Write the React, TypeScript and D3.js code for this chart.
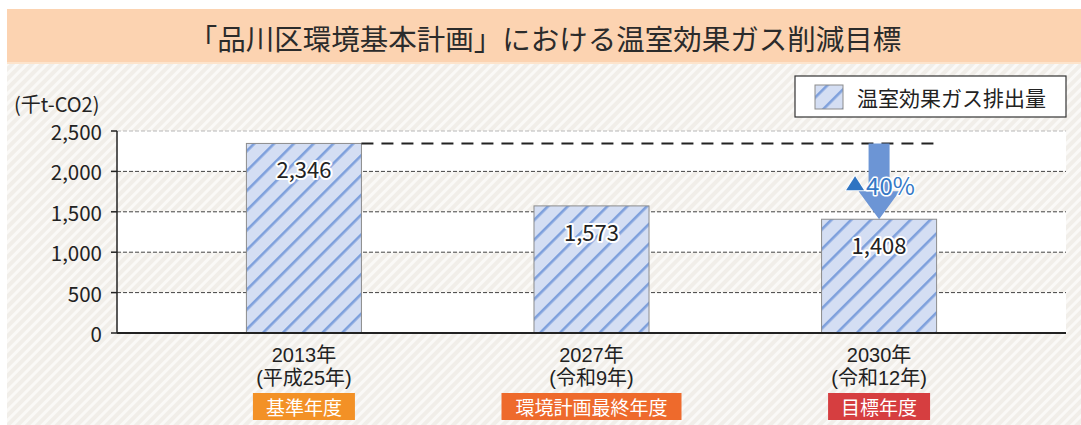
import React from "react";
import * as d3 from "d3";

const title = "「品川区環境基本計画」における温室効果ガス削減目標";
const unitLabel = "(千t-CO2)";
const legendLabel = "温室効果ガス排出量";
const categories = ["2013年", "2027年", "2030年"];
const subLabels = ["(平成25年)", "(令和9年)", "(令和12年)"];
const badges = ["基準年度", "環境計画最終年度", "目標年度"];
const badgeColors = ["#F39126", "#EE6A2C", "#D63E40"];
const values = [2346, 1573, 1408];
const yTicks = [0, 500, 1000, 1500, 2000, 2500];
const reductionLabel = "40%";

const W = 1081;
const H = 425;
const FONT = "'Noto Sans CJK JP', 'Noto Sans', sans-serif";
const TIGHT_FONT = "'Liberation Sans', 'Noto Sans CJK JP', sans-serif";

export default function App() {
  const x0 = 117;
  const x1 = 1066;
  const yBottom = 333;
  const yTop = 131;
  const x = d3.scaleBand<string>().domain(categories).range([x0, x1]).paddingInner(0.6).paddingOuter(0.45);
  const y = d3.scaleLinear().domain([0, 2500]).range([yBottom, yTop]);
  const bw = x.bandwidth();
  const fmt = d3.format(",");

  const bands = d3.pairs(yTicks);

  const baseY = y(values[0]);
  const targetX = (x(categories[2]) as number) + bw / 2;
  const targetTop = y(values[2]);
  const shaftW = 21;
  const headW = 41;
  const headTop = targetTop - 28;
  const arrowPath = `M${targetX - shaftW / 2},${baseY} L${targetX + shaftW / 2},${baseY} L${targetX + shaftW / 2},${headTop} L${targetX + headW / 2},${headTop} L${targetX},${targetTop} L${targetX - headW / 2},${headTop} L${targetX - shaftW / 2},${headTop} Z`;
  const labelY = (baseY + headTop) / 2 + 17;
  const triL = targetX - 33;
  const triPath = `M${triL},${labelY + 6} L${triL + 18},${labelY + 6} L${triL + 9},${labelY - 8} Z`;

  return (
    <svg width={W} height={H} style={{ position: "absolute", left: 0, top: 0, display: "block" }} fontFamily={FONT}>
      <defs>
        <pattern id="bg" patternUnits="userSpaceOnUse" width="7" height="7" patternTransform="rotate(45)">
          <rect width="7" height="7" fill="#F1EEE9" />
          <rect width="3" height="7" fill="#FAF9F7" />
        </pattern>
        <pattern id="barHatch" patternUnits="userSpaceOnUse" width="14" height="14" patternTransform="rotate(45)">
          <rect width="14" height="14" fill="#D4DEF3" />
          <rect width="2.6" height="14" fill="#7EA0DC" />
        </pattern>
      </defs>
      <rect x={0} y={0} width={W} height={H} fill="#FFFFFF" />
      <rect x={7} y={9} width={W - 7} height={H - 9} fill="url(#bg)" />
      <rect x={7} y={9} width={W - 7} height={54} fill="#FCD3B1" />
      <rect x={7} y={62} width={W - 7} height={2} fill="#FDE4CC" />
      <text x={545} y={37} textAnchor="middle" dominantBaseline="central" fontSize={28.5} fill="#2B2B2B">{title}</text>

      {/* plot bands */}
      {bands.map(([a, b], i) => (
        i % 2 === 0 ? (
          <rect key={"band" + i} x={x0} y={y(b)} width={x1 - x0} height={y(a) - y(b)} fill="#FFFFFF" />
        ) : null
      ))}

      {/* grid lines */}
      {yTicks.filter((t) => t > 0).map((t) => (
        <line key={"g" + t} x1={x0} x2={x1} y1={y(t)} y2={y(t)} stroke={t === 2500 ? "#B8B8B8" : "#444"} strokeWidth={1} strokeDasharray="4 2" />
      ))}

      {/* y axis */}
      <line x1={x0} x2={x0} y1={yTop} y2={yBottom} stroke="#222" strokeWidth={1.5} />
      {yTicks.map((t) => (
        <g key={"t" + t}>
          <line x1={x0 - 6} x2={x0} y1={y(t)} y2={y(t)} stroke="#222" strokeWidth={1.5} />
          <text x={102} y={y(t)} textAnchor="end" dominantBaseline="central" fontSize={20.5} fill="#222">{fmt(t)}</text>
        </g>
      ))}
      <text x={14} y={103} dominantBaseline="central" fontSize={20} fill="#222">{unitLabel}</text>

      {/* bars */}
      {values.map((v, i) => {
        const bx = x(categories[i]) as number;
        return (
          <g key={"b" + i}>
            <rect x={bx} y={y(v)} width={bw} height={yBottom - y(v)} fill="url(#barHatch)" stroke="#8C8C8C" strokeWidth={1} />
            <text x={bx + bw / 2} y={y(v) + 25} textAnchor="middle" dominantBaseline="central" fontSize={22} fill="#222" stroke="#FFFFFF" strokeWidth={4} strokeLinejoin="round" style={{ paintOrder: "stroke" }}>{fmt(v)}</text>
          </g>
        );
      })}

      {/* x axis */}
      <line x1={x0} x2={x1} y1={yBottom} y2={yBottom} stroke="#222" strokeWidth={2} />

      {/* baseline dashed line */}
      <line x1={(x(categories[0]) as number) + bw} x2={(x(categories[2]) as number) + bw + 1} y1={baseY} y2={baseY} stroke="#222" strokeWidth={2} strokeDasharray="12 8" />

      {/* reduction arrow */}
      <path d={arrowPath} fill="#6C95D5" />
      <path d={triPath} fill="#2F74C2" stroke="#FFFFFF" strokeWidth={1.5} style={{ paintOrder: "stroke" }} />
      <text x={triL + 20} y={labelY} dominantBaseline="central" fontSize={24} fill="#3478C6" stroke="#FFFFFF" strokeWidth={3} strokeLinejoin="round" style={{ paintOrder: "stroke" }}>{reductionLabel}</text>

      {/* category labels */}
      {categories.map((c, i) => {
        const cx = (x(c) as number) + bw / 2;
        const label = badges[i];
        const bwid = label.length * 19.5 + 24;
        return (
          <g key={"c" + i}>
            <text x={cx} y={362} textAnchor="middle" fontSize={20} fill="#222" fontFamily={TIGHT_FONT}>{c}</text>
            <text x={cx} y={384.5} textAnchor="middle" fontSize={20} fill="#222" fontFamily={TIGHT_FONT}>{subLabels[i]}</text>
            <rect x={cx - bwid / 2} y={393} width={bwid} height={27} fill={badgeColors[i]} />
            <text x={cx} y={406.5} textAnchor="middle" dominantBaseline="central" fontSize={19} fill="#FFFFFF">{label}</text>
          </g>
        );
      })}

      {/* legend */}
      <rect x={795} y={76} width={271} height={41} fill="#FFFFFF" stroke="#333" strokeWidth={1.2} />
      <rect x={815} y={85} width={28} height={24} fill="url(#barHatch)" stroke="#8C8C8C" strokeWidth={1} />
      <text x={857} y={97} dominantBaseline="central" fontSize={21} fill="#222">{legendLabel}</text>
    </svg>
  );
}
